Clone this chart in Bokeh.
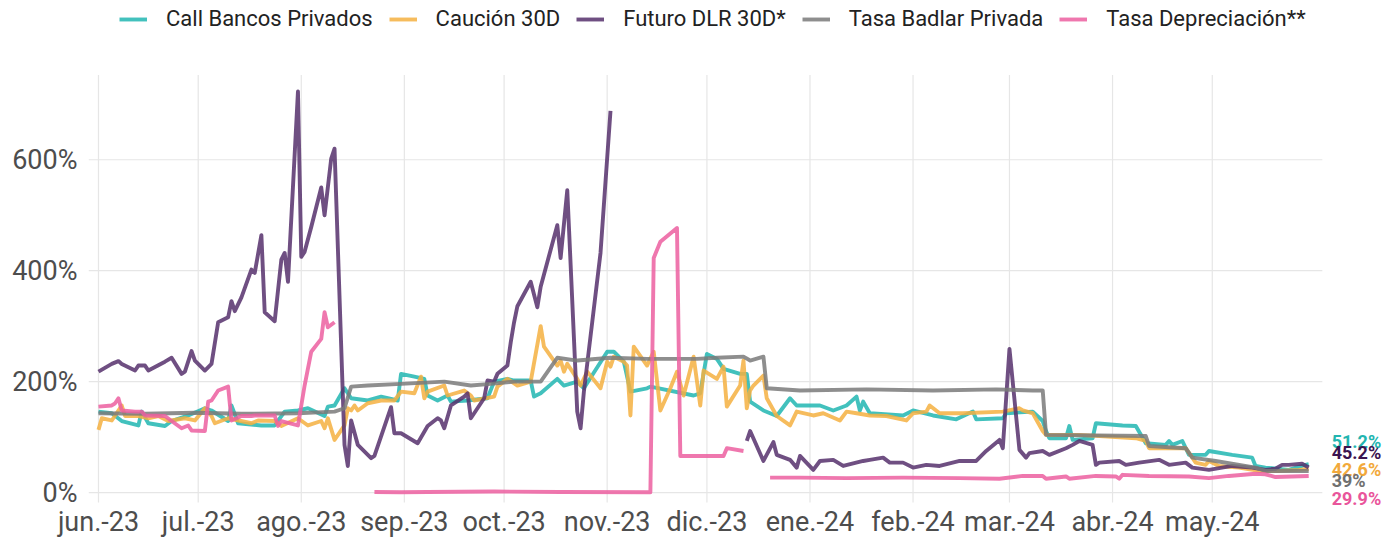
import pandas as pd
from bokeh.plotting import figure
from bokeh.models import (FixedTicker, PrintfTickFormatter, Legend, LegendItem,
                          Label, Range1d, ColumnDataSource)
from bokeh.embed import file_html
from bokeh.resources import INLINE

NaN = float("nan")

# ---------------- data ----------------
month_ticks = ["2023-06-01", "2023-07-01", "2023-08-01", "2023-09-01", "2023-10-01",
               "2023-11-01", "2023-12-01", "2024-01-01", "2024-02-01", "2024-03-01",
               "2024-04-01", "2024-05-01"]
month_labels = ["jun.-23", "jul.-23", "ago.-23", "sep.-23", "oct.-23", "nov.-23",
                "dic.-23", "ene.-24", "feb.-24", "mar.-24", "abr.-24", "may.-24"]
y_ticks = [0, 200, 400, 600]

series_names = ["Call Bancos Privados", "Caución 30D", "Futuro DLR 30D*",
                "Tasa Badlar Privada", "Tasa Depreciación**"]

call_dates = ["2023-06-01", "2023-06-05", "2023-06-08", "2023-06-13", "2023-06-14", "2023-06-16",
              "2023-06-21", "2023-06-23", "2023-06-28", "2023-07-03", "2023-07-05", "2023-07-10",
              "2023-07-11", "2023-07-13", "2023-07-20", "2023-07-24", "2023-07-27", "2023-07-31",
              "2023-08-03", "2023-08-08", "2023-08-09", "2023-08-11", "2023-08-14", "2023-08-16",
              "2023-08-21", "2023-08-25", "2023-08-30", "2023-08-31", "2023-09-04", "2023-09-07",
              "2023-09-08", "2023-09-11", "2023-09-14", "2023-09-15", "2023-09-20", "2023-09-26",
              "2023-09-28", "2023-10-02", "2023-10-04", "2023-10-09", "2023-10-10", "2023-10-12",
              "2023-10-17", "2023-10-19", "2023-10-23", "2023-10-25", "2023-11-01", "2023-11-03",
              "2023-11-06", "2023-11-08", "2023-11-13", "2023-11-14", "2023-11-27", "2023-11-29",
              "2023-12-01", "2023-12-04", "2023-12-06", "2023-12-11", "2023-12-13", "2023-12-14",
              "2023-12-18", "2023-12-22", "2023-12-26", "2023-12-28", "2024-01-04", "2024-01-08",
              "2024-01-12", "2024-01-15", "2024-01-16", "2024-01-17", "2024-01-19", "2024-01-29",
              "2024-02-01", "2024-02-07", "2024-02-14", "2024-02-19", "2024-02-20", "2024-02-28",
              "2024-02-29", "2024-03-08", "2024-03-11", "2024-03-12", "2024-03-13", "2024-03-18",
              "2024-03-19", "2024-03-20", "2024-03-26", "2024-03-27", "2024-04-04", "2024-04-08",
              "2024-04-11", "2024-04-17", "2024-04-18", "2024-04-19", "2024-04-22", "2024-04-24",
              "2024-04-29", "2024-04-30", "2024-05-07", "2024-05-13", "2024-05-14", "2024-05-17",
              "2024-05-24", "2024-05-29", "2024-05-30"]
call_values = [146, 143, 129, 121, 146, 125,
               120, 129, 139, 152, 148, 129,
               157, 125, 121, 121, 146, 148,
               152, 138, 155, 157, 188, 170,
               166, 173, 166, 214, 209, 205,
               175, 166, 175, 164, 166, 170,
               200, 205, 202, 202, 173, 179,
               205, 193, 200, 188, 254, 254,
               236, 182, 188, 191, 175, 179,
               250, 241, 223, 214, 214, 164,
               148, 138, 170, 157, 157, 148,
               157, 173, 148, 164, 143, 139,
               148, 139, 132, 146, 132, 134,
               143, 146, 129, 111, 98, 98,
               120, 95, 98, 125, 121, 120,
               89, 86, 93, 86, 93, 68,
               68, 75, 68, 63, 48, 45,
               41, 50, 51.2]

caucion_dates = ["2023-06-01", "2023-06-02", "2023-06-05", "2023-06-08", "2023-06-09", "2023-06-13",
                 "2023-06-16", "2023-06-19", "2023-06-22", "2023-06-27", "2023-06-30", "2023-07-03",
                 "2023-07-05", "2023-07-06", "2023-07-10", "2023-07-17", "2023-07-19", "2023-07-24",
                 "2023-07-26", "2023-07-31", "2023-08-03", "2023-08-07", "2023-08-08", "2023-08-09",
                 "2023-08-11", "2023-08-14", "2023-08-15", "2023-08-16", "2023-08-17", "2023-08-18",
                 "2023-08-21", "2023-08-25", "2023-08-29", "2023-08-31", "2023-09-04", "2023-09-06",
                 "2023-09-07", "2023-09-08", "2023-09-13", "2023-09-14", "2023-09-19", "2023-09-21",
                 "2023-09-22", "2023-09-28", "2023-09-29", "2023-10-02", "2023-10-05", "2023-10-09",
                 "2023-10-12", "2023-10-13", "2023-10-17", "2023-10-18", "2023-10-19", "2023-10-20",
                 "2023-10-23", "2023-10-24", "2023-10-26", "2023-10-30", "2023-11-01", "2023-11-02",
                 "2023-11-03", "2023-11-06", "2023-11-07", "2023-11-08", "2023-11-09", "2023-11-13",
                 "2023-11-15", "2023-11-17", "2023-11-20", "2023-11-22", "2023-11-24", "2023-11-27",
                 "2023-11-29", "2023-11-30", "2023-12-04", "2023-12-06", "2023-12-07", "2023-12-11",
                 "2023-12-12", "2023-12-13", "2023-12-14", "2023-12-15", "2023-12-18", "2023-12-19",
                 "2023-12-22", "2023-12-26", "2023-12-28", "2024-01-02", "2024-01-05", "2024-01-10",
                 "2024-01-12", "2024-01-15", "2024-01-19", "2024-01-24", "2024-01-30", "2024-02-01",
                 "2024-02-05", "2024-02-06", "2024-02-09", "2024-02-16", "2024-02-28", "2024-03-04",
                 "2024-03-05", "2024-03-08", "2024-03-11", "2024-03-12", "2024-03-22", "2024-04-08",
                 "2024-04-11", "2024-04-12", "2024-04-23", "2024-04-25", "2024-04-26", "2024-04-29",
                 "2024-04-30", "2024-05-03", "2024-05-09", "2024-05-15", "2024-05-21", "2024-05-27",
                 "2024-05-30"]
caucion_values = [113, 134, 130, 157, 138, 138,
                  134, 138, 129, 134, 130, 152,
                  138, 125, 134, 125, 130, 129,
                  120, 134, 121, 129, 116, 134,
                  95, 121, 152, 148, 157, 148,
                  161, 166, 166, 182, 179, 209,
                  170, 182, 193, 175, 184, 175,
                  166, 173, 191, 205, 193, 200,
                  300, 263, 229, 238, 218, 232,
                  205, 193, 218, 188, 236, 227,
                  245, 236, 229, 139, 263, 229,
                  254, 148, 188, 218, 175, 245,
                  157, 220, 205, 227, 155, 193,
                  238, 152, 184, 193, 211, 170,
                  138, 121, 146, 139, 143, 130,
                  146, 143, 139, 138, 130, 143,
                  146, 157, 143, 143, 146, 152,
                  148, 143, 111, 104, 104, 98,
                  93, 80, 80, 63, 54, 50,
                  57, 48, 45, 39, 39, 41,
                  42.6]

futuro_dates = ["2023-06-01", "2023-06-05", "2023-06-07", "2023-06-08", "2023-06-12", "2023-06-13",
                "2023-06-15", "2023-06-16", "2023-06-21", "2023-06-23", "2023-06-26", "2023-06-27",
                "2023-06-29", "2023-06-30", "2023-07-03", "2023-07-05", "2023-07-07", "2023-07-10",
                "2023-07-11", "2023-07-12", "2023-07-14", "2023-07-17", "2023-07-18", "2023-07-20",
                "2023-07-21", "2023-07-24", "2023-07-26", "2023-07-27", "2023-07-28", "2023-07-31",
                "2023-08-01", "2023-08-02", "2023-08-04", "2023-08-07", "2023-08-08", "2023-08-10",
                "2023-08-11", "2023-08-14", "2023-08-15", "2023-08-16", "2023-08-18", "2023-08-22",
                "2023-08-23", "2023-08-28", "2023-08-29", "2023-08-31", "2023-09-05", "2023-09-08",
                "2023-09-11", "2023-09-12", "2023-09-13", "2023-09-15", "2023-09-19", "2023-09-20",
                "2023-09-21", "2023-09-25", "2023-09-26", "2023-09-28", "2023-09-29", "2023-10-02",
                "2023-10-03", "2023-10-04", "2023-10-05", "2023-10-09", "2023-10-11", "2023-10-12",
                "2023-10-17", "2023-10-18", "2023-10-20", "2023-10-23", "2023-10-24", "2023-10-25",
                "2023-10-30", "2023-11-02", "2023-11-20",
                "2023-12-13", "2023-12-14", "2023-12-18", "2023-12-21", "2023-12-22", "2023-12-26",
                "2023-12-28", "2023-12-29", "2024-01-02", "2024-01-04", "2024-01-08", "2024-01-11",
                "2024-01-17", "2024-01-19", "2024-01-23", "2024-01-25", "2024-01-29", "2024-02-01",
                "2024-02-05", "2024-02-09", "2024-02-15", "2024-02-20", "2024-02-23", "2024-02-27",
                "2024-02-28", "2024-03-01", "2024-03-04", "2024-03-06", "2024-03-07", "2024-03-11",
                "2024-03-13", "2024-03-18", "2024-03-20", "2024-03-22", "2024-03-26", "2024-03-27",
                "2024-03-28", "2024-04-03", "2024-04-05", "2024-04-09", "2024-04-15", "2024-04-18",
                "2024-04-23", "2024-04-25", "2024-04-30", "2024-05-07", "2024-05-13", "2024-05-17",
                "2024-05-20", "2024-05-22", "2024-05-24", "2024-05-28", "2024-05-30"]
futuro_values = [218, 232, 237, 232, 220, 229,
                 229, 220, 236, 243, 214, 218,
                 255, 238, 220, 232, 307, 316,
                 345, 327, 352, 402, 396, 464,
                 325, 309, 420, 432, 380, 723,
                 425, 434, 479, 550, 500, 602,
                 620, 86, 48, 130, 86, 62,
                 66, 154, 107, 107, 89, 120,
                 134, 130, 116, 157, 173, 179,
                 134, 170, 202, 200, 214, 229,
                 271, 307, 336, 380, 334, 371,
                 482, 423, 545, 146, 116, 182,
                 432, 688, NaN,
                 93, 111, 57, 91, 68, 59,
                 45, 66, 41, 57, 59, 48,
                 57, 59, 63, 54, 54, 45,
                 50, 48, 57, 57, 75, 95,
                 80, 259, 77, 63, 71, 75,
                 68, 80, 86, 93, 86, 50,
                 54, 57, 50, 54, 59, 50,
                 54, 45, 41, 48, 45, 41,
                 43, 50, 50, 52, 45.2]

badlar_dates = ["2023-06-01", "2023-06-15", "2023-06-30", "2023-07-14", "2023-07-31", "2023-08-11",
                "2023-08-14", "2023-08-16", "2023-08-21", "2023-08-31", "2023-09-13", "2023-09-21",
                "2023-09-27", "2023-10-04", "2023-10-12", "2023-10-17", "2023-10-23", "2023-11-02",
                "2023-11-13", "2023-11-28", "2023-12-04", "2023-12-12", "2023-12-14", "2023-12-18",
                "2023-12-19", "2023-12-29", "2024-01-18", "2024-02-07", "2024-02-26", "2024-03-08",
                "2024-03-11", "2024-03-12", "2024-04-11", "2024-04-12", "2024-04-23", "2024-04-25",
                "2024-05-02", "2024-05-14", "2024-05-17", "2024-05-30"]
badlar_values = [143, 142, 144, 142, 143, 146,
                 152, 191, 193, 196, 200, 193,
                 196, 200, 200, 243, 238, 243,
                 241, 241, 243, 245, 238, 245,
                 188, 184, 186, 184, 186, 184,
                 184, 104, 102, 84, 80, 63,
                 57, 45, 39, 39]

deprec_dates = ["2023-06-01", "2023-06-05", "2023-06-06", "2023-06-07", "2023-06-08", "2023-06-12",
                "2023-06-14", "2023-06-15", "2023-06-21", "2023-06-23", "2023-06-26", "2023-06-28",
                "2023-06-29", "2023-07-03", "2023-07-04", "2023-07-05", "2023-07-07", "2023-07-10",
                "2023-07-11", "2023-07-14", "2023-07-17", "2023-07-18", "2023-07-24", "2023-07-25",
                "2023-07-26", "2023-07-31", "2023-08-02", "2023-08-04", "2023-08-07", "2023-08-08",
                "2023-08-09", "2023-08-11", "2023-08-17",
                "2023-08-23", "2023-08-31", "2023-09-08", "2023-09-28", "2023-10-18", "2023-11-14",
                "2023-11-15", "2023-11-17", "2023-11-22", "2023-11-23", "2023-12-06", "2023-12-07",
                "2023-12-12", "2023-12-15",
                "2023-12-20", "2023-12-29", "2024-01-12", "2024-01-29", "2024-02-15", "2024-02-27",
                "2024-03-05", "2024-03-11", "2024-03-12", "2024-03-18", "2024-03-19", "2024-03-27",
                "2024-04-02", "2024-04-03", "2024-04-04", "2024-04-12", "2024-04-24", "2024-04-30",
                "2024-05-06", "2024-05-14", "2024-05-17", "2024-05-20", "2024-05-30"]
deprec_values = [155, 157, 161, 170, 148, 146,
                 146, 139, 138, 129, 116, 121,
                 112, 111, 164, 166, 184, 191,
                 130, 138, 138, 139, 139, 120,
                 129, 121, 193, 254, 277, 325,
                 298, 307, NaN,
                 1, 0.5, 1, 2, 1, 0.5,
                 423, 452, 477, 66, 66, 80,
                 75, NaN,
                 27, 27, 26, 27, 26, 25,
                 30, 30, 25, 29, 25, 30,
                 29, 25, 32, 30, 29, 26,
                 30, 34, 33, 28, 29.9]

# ---------------- styling ----------------
colors = ["#21B6B2", "#F5B041", "#56306C", "#7A7A7A", "#EC5FA0"]
label_colors = ["#22B5B0", "#3B1450", "#F2A93B", "#707070", "#E9559B"]
label_y = [92.5, 73.0, 41.0, 21.5, -11.5]   # repelled label positions (data units)
label_order = [0, 2, 1, 3, 4]
FONT = "Roboto"
GRID = "#E6E6E6"


def ms(d):
    return pd.Timestamp(d).value / 1e6


x_start = pd.Timestamp("2023-05-29")
x_end = x_start + pd.Timedelta(days=390.1)
grid_x_end = x_start + pd.Timedelta(days=371.1)
y_start, y_end = -23.3, 887.1
grid_y_start, grid_y_end = -18.0, 752.7

p = figure(width=1385, height=540, output_backend="svg", toolbar_location=None,
           x_axis_type="datetime",
           x_range=Range1d(ms(x_start), ms(x_end)), y_range=Range1d(y_start, y_end),
           min_border_left=88, min_border_right=0, min_border_top=0, min_border_bottom=32)
p.outline_line_color = None
p.background_fill_color = "white"
p.xgrid.visible = False
p.ygrid.visible = False

# grid lines (stop short of the end labels / legend band, like the reference)
p.segment(x0=[ms(x_start)] * len(y_ticks), x1=[ms(grid_x_end)] * len(y_ticks),
          y0=y_ticks, y1=y_ticks, line_color=GRID, line_width=1.2, level="underlay")
p.segment(x0=[ms(t) for t in month_ticks], x1=[ms(t) for t in month_ticks],
          y0=[grid_y_start] * len(month_ticks), y1=[grid_y_end] * len(month_ticks),
          line_color=GRID, line_width=1.2, level="underlay")

all_series = [(call_dates, call_values), (caucion_dates, caucion_values),
              (futuro_dates, futuro_values), (badlar_dates, badlar_values),
              (deprec_dates, deprec_values)]

renderers = []
for (dates, vals), col in zip(all_series, colors):
    src = ColumnDataSource(dict(x=pd.to_datetime(dates), y=vals))
    r = p.line("x", "y", source=src, line_color=col, line_width=3.9, line_alpha=0.85,
               line_join="round")
    renderers.append(r)

# axes
p.xaxis.ticker = FixedTicker(ticks=[ms(t) for t in month_ticks])
p.xaxis.major_label_overrides = {ms(t): lab for t, lab in zip(month_ticks, month_labels)}
p.yaxis.ticker = FixedTicker(ticks=y_ticks)
p.yaxis.formatter = PrintfTickFormatter(format="%d%%")
for ax in (p.xaxis[0], p.yaxis[0]):
    ax.axis_line_color = None
    ax.major_tick_line_color = None
    ax.minor_tick_line_color = None
    ax.major_tick_out = 0
    ax.minor_tick_out = 0
    ax.major_label_text_font = FONT
    ax.major_label_text_font_size = "27px"
    ax.major_label_text_color = "#4D4D4D"
p.xaxis.major_label_standoff = 0
p.yaxis.major_label_standoff = 11

# legend (top band of the frame)
legend = Legend(items=[LegendItem(label=n, renderers=[r]) for n, r in zip(series_names, renderers)],
                orientation="horizontal", location=(31, 474),
                padding=0, margin=0, spacing=16, label_standoff=19,
                glyph_width=28, glyph_height=24, label_height=24,
                label_text_font=FONT, label_text_font_size="22px", label_text_color="#222222",
                border_line_color=None, background_fill_alpha=0)
p.add_layout(legend)

# end labels
for k, i in enumerate(label_order):
    dates, vals = all_series[i]
    v = vals[-1]
    p.add_layout(Label(x=ms(dates[-1]), y=label_y[k], x_offset=23, text=f"{v:g}%",
                       text_color=label_colors[k], text_font=FONT, text_font_style="bold",
                       text_font_size="18px", text_baseline="middle", text_align="left"))

open("out.html", "w").write(file_html(p, INLINE))
